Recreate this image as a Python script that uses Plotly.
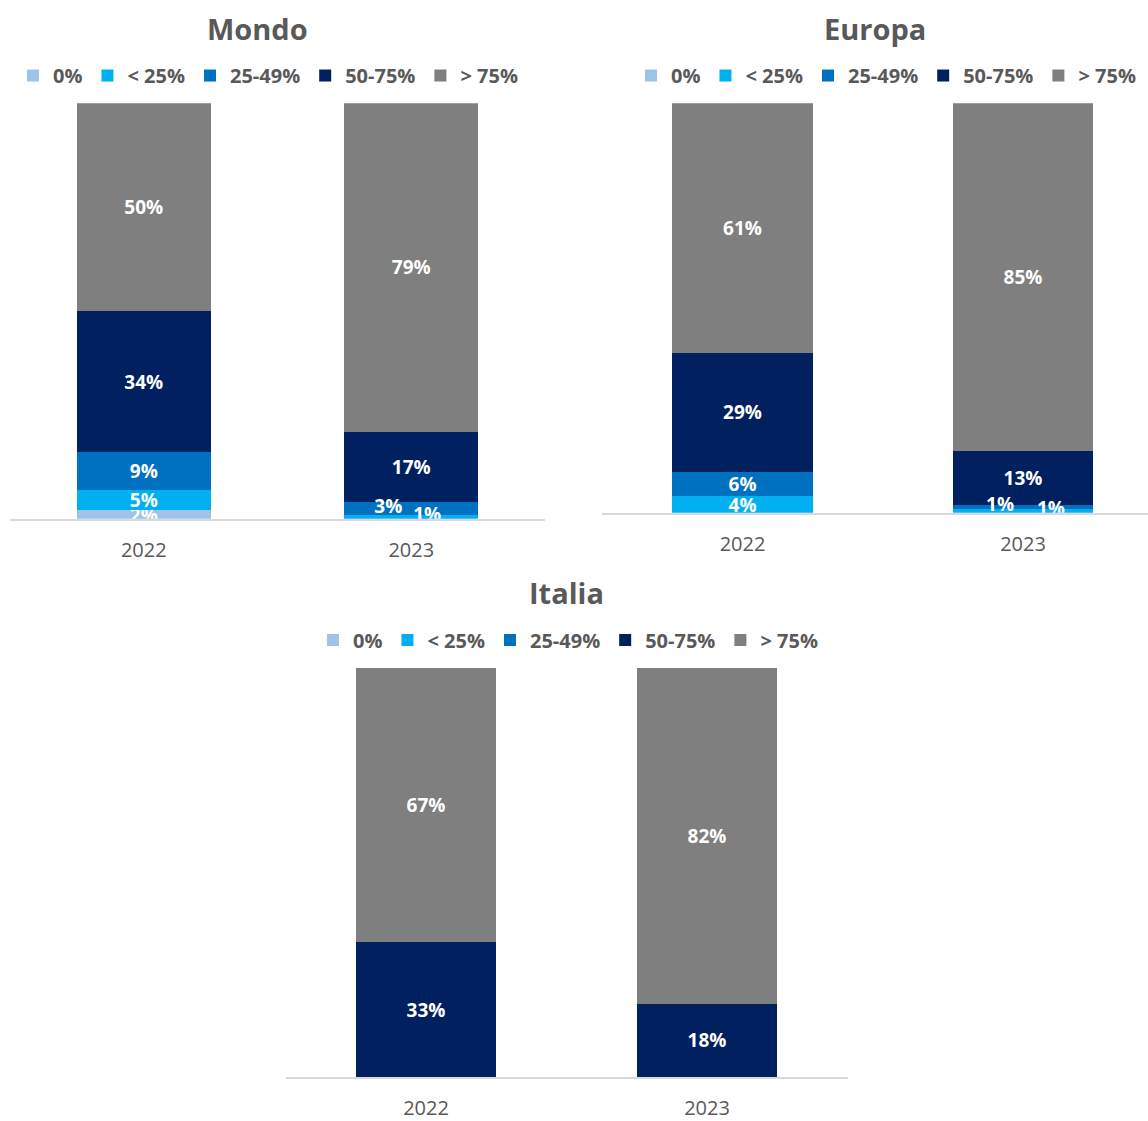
import plotly.graph_objects as go

# --- data -------------------------------------------------------------
years = ["2022", "2023"]
bands = ["0%", "< 25%", "25-49%", "50-75%", "> 75%"]

# share (%) per band, listed as [2022, 2023], bands bottom to top
mondo_values = [[2, 0], [5, 1], [9, 3], [34, 17], [50, 79]]
europa_values = [[0, 0], [4, 1], [6, 1], [29, 13], [61, 85]]
italia_values = [[0, 0], [0, 0], [0, 0], [33, 18], [67, 82]]

regions = ["Mondo", "Europa", "Italia"]

# --- style --------------------------------------------------------------
band_colors = ["#9DC3E6", "#00B0F0", "#0070C0", "#002060", "#7F7F7F"]
FONT = "Open Sans"
GREY_TEXT = "#595959"
W, H = 1148, 1121

# pixel layout of each panel: x from/to, baseline, top of 100 %, title y, legend centre
panels = {
    "Mondo": dict(x0=10, x1=545, base=522, top=104, title=(257, 29), legend=(268, 76),
                  xrange=[-0.5, 1.5]),
    "Europa": dict(x0=602.25, x1=1148, base=516, top=104, title=(875, 29), legend=(886, 76),
                   xrange=[-0.5, -0.5 + (1148 - 602.25) / 280.5]),
    "Italia": dict(x0=285.5, x1=847.5, base=1084, top=672, title=(566, 596), legend=(568, 644),
                   xrange=[-0.5, 1.5]),
}
values_by_region = {"Mondo": mondo_values, "Europa": europa_values, "Italia": italia_values}

# thin 2023 segments whose labels sit side by side: band index -> (side, marker size for the gap)
side_labels = {
    "Mondo": {2: ("left", 12.8), 1: ("right", 1.6)},
    "Europa": {2: ("left", 12.8), 1: ("right", 20.8)},
    "Italia": {},
}

fig = go.Figure()

for i, region in enumerate(regions):
    p = panels[region]
    suffix = "" if i == 0 else str(i + 1)
    xa, ya = "x" + suffix, "y" + suffix
    legend_id = "legend" + suffix
    vals = values_by_region[region]

    for b, band in enumerate(bands):
        texts = []
        for yi, v in enumerate(vals[b]):
            moved = yi == 1 and b in side_labels[region]
            texts.append(f"{v}%" if v and not moved else "")
        fig.add_trace(go.Bar(
            x=years, y=vals[b], name=band,
            marker=dict(color=band_colors[b], line=dict(width=0)),
            text=texts, textposition="inside", insidetextanchor="middle",
            textangle=0, constraintext="none", cliponaxis=True,
            textfont=dict(family=FONT, size=19, color="white", weight="bold"),
            xaxis=xa, yaxis=ya, legend=legend_id, hoverinfo="skip",
        ))

    # labels of the thin 2023 segments, placed beside the bar centre
    for b, (side, gap) in side_labels[region].items():
        v = vals[b][1]
        below = sum(vals[k][1] for k in range(b))
        fig.add_trace(go.Scatter(
            x=[years[1]], y=[below + v / 2], mode="markers+text",
            text=[f"{v}%"], textposition=f"middle {side}",
            marker=dict(size=gap, color="rgba(0,0,0,0)"),
            textfont=dict(family=FONT, size=19, color="white", weight="bold"),
            cliponaxis=True, showlegend=False, hoverinfo="skip",
            xaxis=xa, yaxis=ya,
        ))

    fig.update_layout({
        "xaxis" + suffix: dict(
            domain=[p["x0"] / W, p["x1"] / W], anchor=ya,
            type="category", range=p["xrange"],
            showline=True, linecolor="#D9D9D9", linewidth=2,
            showgrid=False, zeroline=False, ticks="",
            tickfont=dict(family=FONT, size=20, color=GREY_TEXT),
            ticklabelstandoff=12, fixedrange=True,
        ),
        "yaxis" + suffix: dict(
            domain=[1 - p["base"] / H, 1 - p["top"] / H], anchor=xa,
            range=[0, 100], visible=False, showgrid=False, zeroline=False,
            fixedrange=True,
        ),
        legend_id: dict(
            orientation="h", x=p["legend"][0] / W, y=1 - p["legend"][1] / H,
            xanchor="center", yanchor="middle", traceorder="normal",
            font=dict(family=FONT, size=20, color=GREY_TEXT, weight="bold"),
            bgcolor="rgba(0,0,0,0)",
        ),
    })
    fig.add_annotation(
        text=region, xref="paper", yref="paper",
        x=p["title"][0] / W, y=1 - p["title"][1] / H,
        xanchor="center", yanchor="middle", showarrow=False,
        font=dict(family=FONT, size=29, color=GREY_TEXT, weight="bold"),
    )

fig.update_layout(
    width=W, height=H, margin=dict(l=0, r=0, t=0, b=0),
    barmode="stack", bargap=0.5,
    paper_bgcolor="white", plot_bgcolor="white",
    font=dict(family=FONT, color=GREY_TEXT),
)

fig.write_html("out.html")
